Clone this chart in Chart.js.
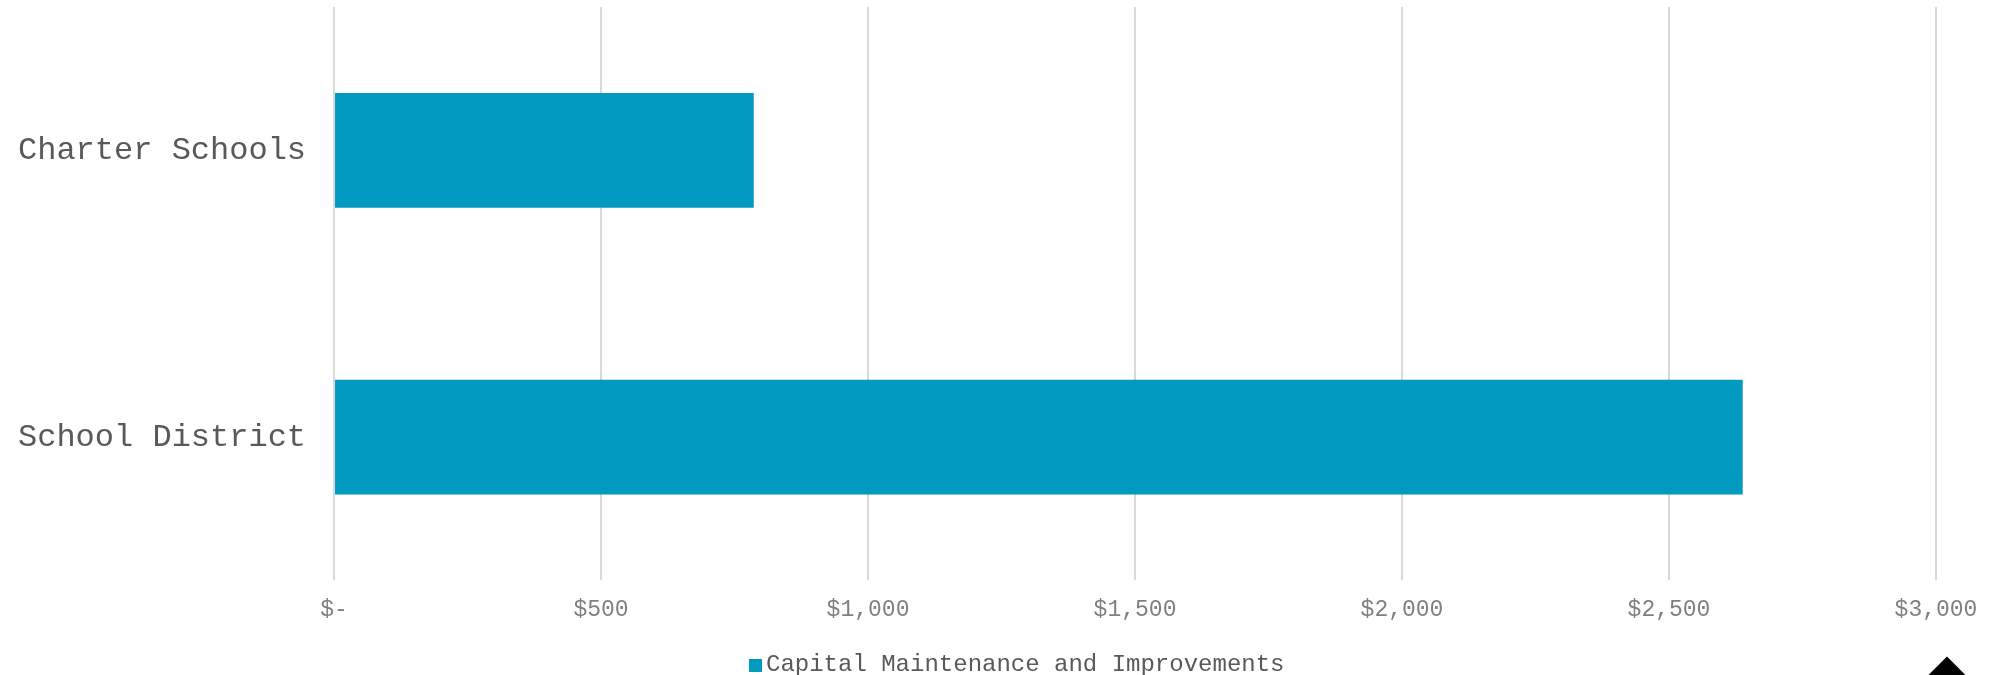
<!DOCTYPE html>
<html lang="en">
<head>
    <meta charset="UTF-8">
    <title>Capital Maintenance and Improvements</title>
    <style>
        body {
            margin: 0;
            padding: 0;
            background: #ffffff;
        }

        .clip {
            position: absolute;
            left: 0;
            top: 0;
            width: 1995px;
            height: 675px;
            overflow: hidden;
        }

        .chart-box {
            position: relative;
            width: 1995px;
            height: 675px;
        }

        /* legend under the axis */
        .legend {
            position: absolute;
            left: 749px;
            top: 651px;
            height: 28px;
            display: flex;
            align-items: center;
            font-family: "Courier New", "Liberation Mono", monospace;
            font-size: 24px;
            line-height: 28px;
            color: #595959;
            white-space: nowrap;
        }

        .legend .swatch {
            width: 13px;
            height: 13px;
            margin-right: 4px;
        }

        /* little black marker in the bottom right corner */
        .corner-mark {
            position: absolute;
            left: 1929px;
            top: 664px;
            width: 36px;
            height: 36px;
            background: #000;
            transform: rotate(45deg);
        }
    </style>
</head>
<body>

    <div class="clip">
        <div class="chart-box">
            <canvas id="capitalChart" width="1995" height="675"></canvas>
        </div>
        <div class="legend" id="legend"></div>
        <div class="corner-mark"></div>
    </div>

    <script src="https://cdn.jsdelivr.net/npm/chart.js"></script>
    <script>
        // Chart data
        const categories = ['Charter Schools', 'School District'];
        const capitalValues = [786, 2638];
        const seriesName = 'Capital Maintenance and Improvements';
        const tickValues = [0, 500, 1000, 1500, 2000, 2500, 3000];

        const barColor = '#029ac0';
        const fontFamily = '"Courier New", "Liberation Mono", monospace';

        const ctx = document.getElementById('capitalChart').getContext('2d');

        const capitalChart = new Chart(ctx, {
            type: 'bar',
            data: {
                labels: categories,
                datasets: [{
                    label: seriesName,
                    data: capitalValues,
                    backgroundColor: barColor,
                    borderWidth: 0,
                    barPercentage: 0.4,
                    categoryPercentage: 1.0
                }]
            },
            options: {
                indexAxis: 'y',
                responsive: false,
                animation: false,
                layout: {
                    autoPadding: false,
                    padding: { left: 18, right: 59, top: 7, bottom: 35 }
                },
                plugins: {
                    legend: { display: false },
                    tooltip: { enabled: false }
                },
                scales: {
                    x: {
                        min: tickValues[0],
                        max: tickValues[tickValues.length - 1],
                        afterBuildTicks: function(axis) {
                            axis.ticks = tickValues.map(v => ({ value: v }));
                        },
                        grid: {
                            color: '#d9d9d9',
                            lineWidth: 2,
                            drawTicks: false
                        },
                        border: { display: false },
                        ticks: {
                            padding: 16,
                            color: '#808080',
                            font: { family: fontFamily, size: 23 },
                            callback: function(value) {
                                if (value === 0) return '$-';
                                return '$' + value.toLocaleString('en-US');
                            }
                        }
                    },
                    y: {
                        grid: {
                            display: true,
                            drawOnChartArea: false,
                            drawTicks: true,
                            tickLength: 28,
                            tickColor: 'rgba(0,0,0,0)',
                            color: 'rgba(0,0,0,0)'
                        },
                        border: { display: false },
                        ticks: {
                            padding: 0,
                            color: '#595959',
                            font: { family: fontFamily, size: 32, lineHeight: 0.375 }
                        }
                    }
                }
            }
        });

        // Build the legend from the dataset
        const legendEl = document.getElementById('legend');
        capitalChart.data.datasets.forEach(function(ds) {
            const swatch = document.createElement('span');
            swatch.className = 'swatch';
            swatch.style.background = ds.backgroundColor;
            const text = document.createElement('span');
            text.textContent = ds.label;
            legendEl.appendChild(swatch);
            legendEl.appendChild(text);
        });
    </script>

</body>
</html>
